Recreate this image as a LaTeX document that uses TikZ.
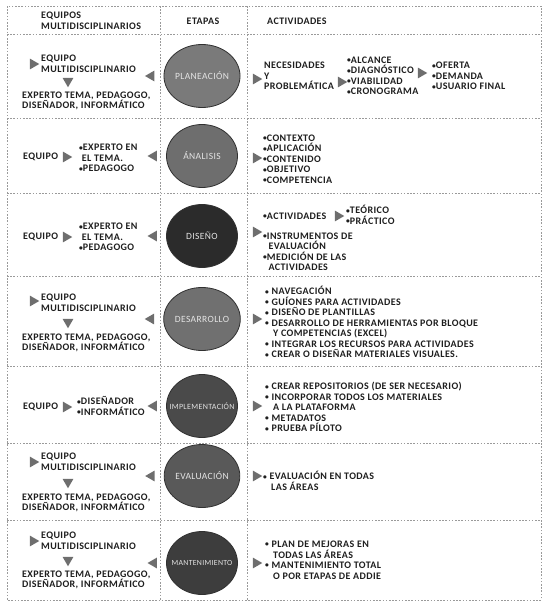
\documentclass[tikz,border=0pt]{standalone}
\usepackage{fontspec}
\setmainfont{Carlito}[LetterSpace=4]
\usetikzlibrary{positioning,shapes.geometric}
\definecolor{ink}{HTML}{1E1E1E}
\definecolor{sepgray}{HTML}{9A9A9A}
\definecolor{trigray}{HTML}{6E6E6E}
\definecolor{ovalline}{HTML}{303030}
\definecolor{ovaltext}{HTML}{E4E4E4}
\newcommand\bul{\raisebox{0.6pt}{\scalebox{0.75}{•}}}

\begin{document}
\begin{tikzpicture}[x=1pt, y=-1pt, node distance=8pt,
  every node/.style={font=\fontsize{10}{10.5}\selectfont\bfseries},
  txt/.style={align=left,inner sep=0pt,anchor=west,text=ink},
  etapa/.style={ellipse,draw=ovalline,line width=0.8pt,minimum width=71pt,minimum height=63pt,inner sep=0pt,text=ovaltext,font=\fontsize{9.5}{10}\selectfont},
  tri/.style={regular polygon,regular polygon sides=3,fill=trigray,minimum size=12.5pt,inner sep=0pt},
  triR/.style={tri,shape border rotate=-90},
  triL/.style={tri,shape border rotate=90},
  triD/.style={tri,shape border rotate=180},
  sep/.style={sepgray,line width=0.6pt,dash pattern=on 1.6pt off 1.6pt}]
\useasboundingbox (0,0) rectangle (551,608);

% grid
\draw[sep] (7,6) rectangle (541,600);
\foreach \y in {34,118,193,276,366,443,520} \draw[sep] (7,\y) -- (541,\y);
\draw[sep] (160,6) -- (160,600);
\draw[sep] (247,6) -- (247,600);

% header
\node[txt] (hEquipos) at (41,21) {EQUIPOS\\MULTIDISCIPLINARIOS};
\node[txt,anchor=center] (hEtapas) at (203,21) {ETAPAS};
\node[txt] (hActiv) at (267,21) {ACTIVIDADES};

% planeacion
\node[etapa,fill=black!52] (plan) at (202,76) {PLANEACIÓN};
\node[triL,left=9pt of plan] (planL) {};
\node[triR] (planEqT) at (33,64) {};
\node[txt] (planEq) at (41,64) {EQUIPO\\MULTIDISCIPLINARIO};
\node[triD] (planDn) at (68,81) {};
\node[txt] (planExp) at (22,101) {EXPERTO TEMA, PEDAGOGO,\\DISEÑADOR, INFORMÁTICO};
\node[triR] (planR) at (256,79) {};
\node[txt] (planNec) at (264,76) {NECESIDADES\\Y\\PROBLEMÁTICA};
\node[triR] (planT2) at (341,82) {};
\node[txt] (planAlc) at (347,76) {\bul ALCANCE\\\bul DIAGNÓSTICO\\\bul VIABILIDAD\\\bul CRONOGRAMA};
\node[triR] (planT3) at (421,73) {};
\node[txt] (planOf) at (432,76) {\bul OFERTA\\\bul DEMANDA\\\bul USUARIO FINAL};

% analisis
\node[etapa,fill=black!57] (anal) at (202,156) {ÁNALISIS};
\node[triL,left=9pt of anal] (analL) {};
\node[txt] (analEq) at (23,157) {EQUIPO};
\node[triR] (analEqT) at (66,157) {};
\node[txt] (analExp) at (79,158) {\bul EXPERTO EN\\\ EL TEMA.\\\bul PEDAGOGO};
\node[triR] (analR) at (256,158) {};
\node[txt] (analAct) at (263,159) {\bul CONTEXTO\\\bul APLICACIÓN\\\bul CONTENIDO\\\bul OBJETIVO\\\bul COMPETENCIA};

% diseno
\node[etapa,fill=black!83] (dis) at (202,236) {DISEÑO};
\node[triL,left=9pt of dis] (disL) {};
\node[txt] (disEq) at (23,237) {EQUIPO};
\node[triR] (disEqT) at (66,237) {};
\node[txt] (disExp) at (79,237) {\bul EXPERTO EN\\\ EL TEMA.\\\bul PEDAGOGO};
\node[txt] (disAct) at (263,216) {\bul ACTIVIDADES};
\node[triR] (disT2) at (338,216) {};
\node[txt] (disTeo) at (346,215) {\bul TEÓRICO\\\bul PRÁCTICO};
\node[triR] (disR) at (256,232) {};
\node[txt] (disIns) at (263,252) {\bul INSTRUMENTOS DE\\\ \ EVALUACIÓN\\\bul MEDICIÓN DE LAS\\\ \ ACTIVIDADES};

% desarrollo
\node[etapa,fill=black!56] (desa) at (202,319) {DESARROLLO};
\node[triL,left=9pt of desa] (desaL) {};
\node[triR] (desaEqT) at (33,301) {};
\node[txt] (desaEq) at (41,303) {EQUIPO\\MULTIDISCIPLINARIO};
\node[triD] (desaDn) at (68,322) {};
\node[txt] (desaExp) at (22,343) {EXPERTO TEMA, PEDAGOGO,\\DISEÑADOR, INFORMÁTICO};
\node[triR] (desaR) at (256,319) {};
\node[txt] (desaAct) at (265,322) {\bul\ NAVEGACIÓN\\\bul\ GUÍONES PARA ACTIVIDADES\\\bul\ DISEÑO DE PLANTILLAS\\\bul\ DESARROLLO DE HERRAMIENTAS POR BLOQUE\\\ \ \ Y COMPETENCIAS (EXCEL)\\\bul\ INTEGRAR LOS RECURSOS PARA ACTIVIDADES\\\bul\ CREAR O DISEÑAR MATERIALES VISUALES.};

% implementacion
\node[etapa,fill=black!71,font=\fontsize{8}{9}\selectfont] (impl) at (202,406) {\makebox[0pt]{IMPLEMENTACIÓN}};
\node[triL,left=9pt of impl] (implL) {};
\node[txt] (implEq) at (23,407) {EQUIPO};
\node[triR] (implEqT) at (66,407) {};
\node[txt] (implExp) at (77,406) {\bul DISEÑADOR\\\bul INFORMÁTICO};
\node[triR] (implR) at (256,406) {};
\node[txt] (implAct) at (265,407) {\bul\ CREAR REPOSITORIOS (DE SER NECESARIO)\\\bul\ INCORPORAR TODOS LOS MATERIALES\\\ \ \ A LA PLATAFORMA\\\bul\ METADATOS\\\bul\ PRUEBA PÍLOTO};

% evaluacion
\node[etapa,fill=black!65] (eval) at (202,476) {EVALUACIÓN};
\node[triL,left=9pt of eval] (evalL) {};
\node[triR] (evalEqT) at (33,462) {};
\node[txt] (evalEq) at (41,462) {EQUIPO\\MULTIDISCIPLINARIO};
\node[triD] (evalDn) at (68,482) {};
\node[txt] (evalExp) at (22,503) {EXPERTO TEMA, PEDAGOGO,\\DISEÑADOR, INFORMÁTICO};
\node[triR] (evalR) at (256,476) {};
\node[txt] (evalAct) at (263,481) {\bul\ EVALUACIÓN EN TODAS\\\ \ \ LAS ÁREAS};

% mantenimiento
\node[etapa,fill=black!76,font=\fontsize{7.8}{9}\selectfont] (mant) at (202,563) {\makebox[0pt]{MANTENIMIENTO}};
\node[triL,left=9pt of mant] (mantL) {};
\node[triR] (mantEqT) at (33,541) {};
\node[txt] (mantEq) at (41,541) {EQUIPO\\MULTIDISCIPLINARIO};
\node[triD] (mantDn) at (68,560) {};
\node[txt] (mantExp) at (22,580) {EXPERTO TEMA, PEDAGOGO,\\DISEÑADOR, INFORMÁTICO};
\node[triR] (mantR) at (256,563) {};
\node[txt] (mantAct) at (265,560) {\bul\ PLAN DE MEJORAS EN\\\ \ \ TODAS LAS ÁREAS\\\bul\ MANTENIMIENTO TOTAL\\\ \ \ O POR ETAPAS DE ADDIE};
\end{tikzpicture}
\end{document}
